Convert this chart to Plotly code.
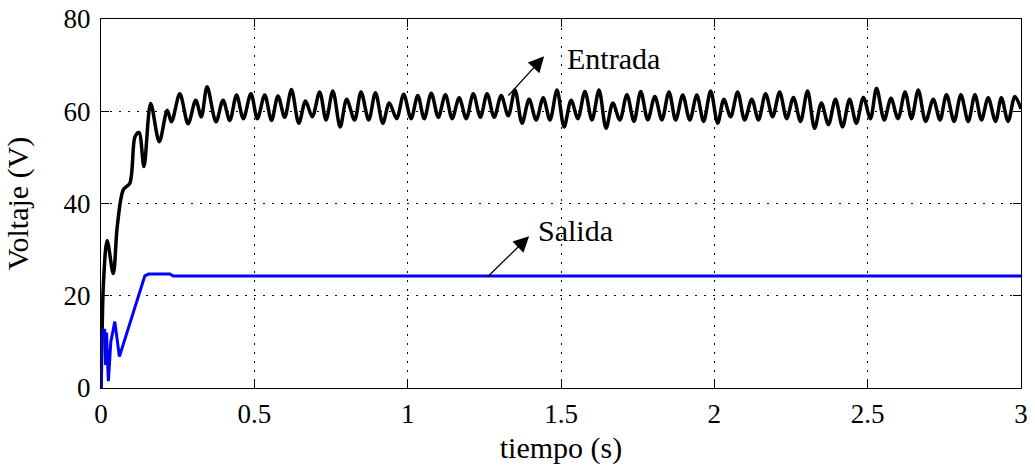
import plotly.graph_objects as go

# Entrada (input voltage) - extrema
t_in = [0.000, 0.003, 0.008, 0.020, 0.040, 0.053, 0.073, 0.094, 0.111, 0.124,
        0.140, 0.162, 0.190, 0.216, 0.230, 0.257, 0.284, 0.309, 0.327, 0.346,
        0.375, 0.398, 0.420, 0.442, 0.464, 0.489, 0.510, 0.534, 0.556,
        0.577, 0.599, 0.621, 0.645, 0.667, 0.689, 0.713, 0.734, 0.756, 0.780,
        0.801, 0.827, 0.848, 0.873, 0.895, 0.919, 0.940, 0.964, 0.987, 1.011,
        1.033, 1.054, 1.077, 1.100, 1.123, 1.145, 1.168, 1.191, 1.214, 1.237,
        1.259, 1.282, 1.305, 1.328, 1.350, 1.373, 1.396, 1.419, 1.442, 1.464,
        1.487, 1.510, 1.533, 1.555, 1.578, 1.601, 1.624, 1.647, 1.669, 1.692,
        1.715, 1.738, 1.760, 1.783, 1.806, 1.829, 1.852, 1.874, 1.897, 1.920,
        1.943, 1.965, 1.988, 2.011, 2.031, 2.053, 2.076, 2.099, 2.122, 2.144,
        2.167, 2.190, 2.213, 2.236, 2.258, 2.281, 2.304, 2.327, 2.349, 2.372,
        2.395, 2.418, 2.441, 2.463, 2.486, 2.509, 2.529, 2.554, 2.576, 2.599,
        2.622, 2.643, 2.665, 2.689, 2.714, 2.736, 2.757, 2.782, 2.804, 2.828,
        2.850, 2.871, 2.893, 2.917, 2.936, 2.958, 2.980, 3.000]
v_in = [0.0, 10.0, 22.7, 32.0, 24.8, 35.0, 43.0, 44.4, 54.5, 55.4,
        48.0, 61.7, 53.4, 60.2, 57.7, 63.8, 57.3, 62.4, 58.8, 65.3,
        57.7, 62.4, 58.0, 63.5, 58.4, 63.8, 58.4, 63.5, 58.0,
        63.3, 58.7, 64.7, 57.4, 62.2, 58.8, 64.2, 58.1, 64.4, 56.6,
        62.6, 58.1, 64.2, 58.1, 64.0, 57.4, 61.8, 58.4, 63.7, 58.4,
        63.4, 58.4, 63.9, 58.7, 63.6, 58.4, 62.9, 58.4, 63.8, 58.7,
        63.8, 58.7, 63.4, 59.0, 64.6, 57.4, 62.6, 58.1, 62.9, 58.1,
        64.6, 56.6, 62.4, 58.4, 64.3, 58.1, 64.6, 56.3, 61.8, 58.1,
        63.6, 57.8, 64.3, 58.1, 63.2, 58.1, 64.2, 58.1, 63.5, 58.1,
        63.5, 57.8, 64.4, 57.4, 62.6, 58.8, 64.2, 58.1, 62.6, 58.1,
        63.8, 58.8, 64.2, 58.4, 63.0, 57.8, 64.4, 56.3, 61.8, 57.1,
        62.6, 56.6, 62.6, 57.4, 63.0, 58.4, 65.0, 58.1, 62.8, 58.4,
        64.2, 58.4, 64.6, 57.8, 62.6, 58.1, 63.6, 57.8, 63.6, 57.8,
        63.6, 58.1, 62.9, 57.8, 62.9, 57.8, 63.2, 60.5]

# Salida (output voltage)
t_out = [0.000, 0.001, 0.012, 0.015, 0.018, 0.024, 0.032, 0.045, 0.060,
         0.143, 0.155, 0.225, 0.235, 3.000]
v_out = [0.0, 12.5, 12.5, 5.0, 12.0, 1.5, 10.0, 14.4, 6.8,
         24.3, 24.7, 24.7, 24.3, 24.3]

x_ticks = [0, 0.5, 1, 1.5, 2, 2.5, 3]
x_tick_text = ["0", "0.5", "1", "1.5", "2", "2.5", "3"]
y_ticks = [0, 20, 40, 60, 80]

FONT = "Liberation Serif"

fig = go.Figure()
fig.add_trace(go.Scatter(x=t_in, y=v_in, mode="lines",
                         line=dict(color="black", width=3.5, shape="spline", smoothing=0.9),
                         showlegend=False))
fig.add_trace(go.Scatter(x=t_out, y=v_out, mode="lines",
                         line=dict(color="#0000ff", width=3),
                         showlegend=False))

axis_common = dict(showline=True, linecolor="black", linewidth=1, mirror="ticks",
                   ticks="inside", ticklen=8, tickcolor="black", automargin=False,
                   showgrid=True, gridcolor="black", gridwidth=1, griddash="2px,7px",
                   zeroline=False, tickfont=dict(family=FONT, size=27, color="black"))

fig.update_xaxes(range=[0, 3], tickvals=x_ticks, ticktext=x_tick_text, ticklabelstandoff=2,
                 title=dict(text="tiempo (s)", font=dict(family=FONT, size=30, color="black"), standoff=8),
                 **axis_common)
fig.update_yaxes(range=[0, 80], tickvals=y_ticks, ticklabelstandoff=4,
                 title=dict(text="Voltaje (V)", font=dict(family=FONT, size=30, color="black"), standoff=26),
                 **axis_common)

# arrows
fig.add_annotation(x=1.445, y=71.9, ax=1.324, ay=63.1, xref="x", yref="y", axref="x", ayref="y",
                   showarrow=True, arrowhead=2, arrowsize=2.4, arrowwidth=1.3, arrowcolor="black", text="")
fig.add_annotation(x=1.396, y=32.9, ax=1.256, ay=23.8, xref="x", yref="y", axref="x", ayref="y",
                   showarrow=True, arrowhead=2, arrowsize=2.4, arrowwidth=1.3, arrowcolor="black", text="")
fig.add_annotation(x=1.672, y=71.5, text="Entrada", showarrow=False,
                   font=dict(family=FONT, size=30, color="black"))
fig.add_annotation(x=1.546, y=34.2, text="Salida", showarrow=False,
                   font=dict(family=FONT, size=30, color="black"))

fig.update_layout(width=1035, height=469, margin=dict(l=101, r=14, t=19, b=81),
                  plot_bgcolor="white", paper_bgcolor="white")

fig.write_html("out.html", config={"displayModeBar": False},
               post_script="document.body.style.margin='0px';document.body.style.overflow='hidden';")
